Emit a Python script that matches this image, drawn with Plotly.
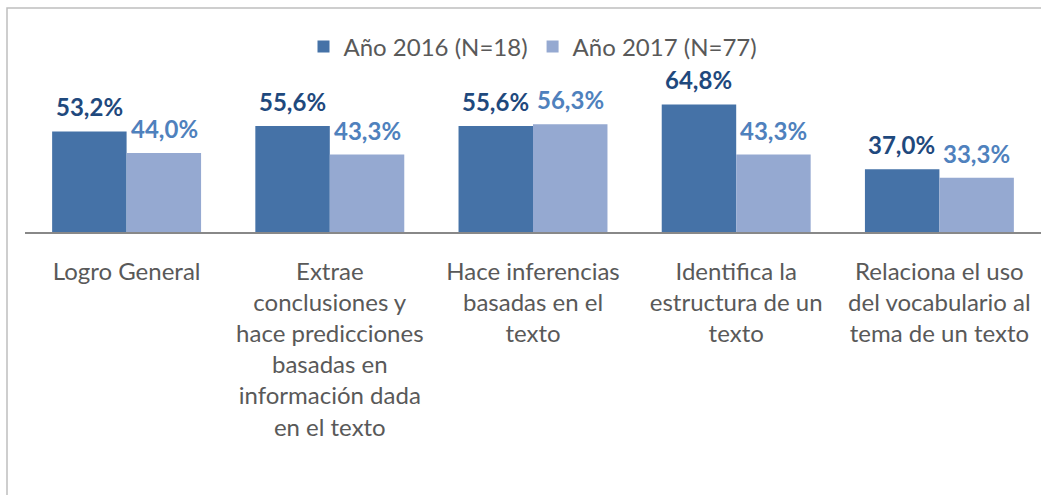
import plotly.graph_objects as go

categories = [
    "Logro General",
    "Extrae<br>conclusiones y<br>hace predicciones<br>basadas en<br>información dada<br>en el texto",
    "Hace inferencias<br>basadas en el<br>texto",
    "Identifica la<br>estructura de un<br>texto",
    "Relaciona el uso<br>del vocabulario al<br>tema de un texto",
]
series_names = ["Año 2016 (N=18)", "Año 2017 (N=77)"]
values_2016 = [53.2, 55.6, 55.6, 64.8, 37.0]
values_2017 = [44.0, 43.3, 56.3, 43.3, 33.3]

bar_colors = ["#4572A7", "#95A9D1"]
label_colors = ["#1F497D", "#4F81BD"]
FONT = "Lato"

fig = go.Figure()
for name, vals, col in zip(series_names, [values_2016, values_2017], bar_colors):
    fig.add_trace(go.Bar(x=categories, y=vals, name=name, marker_color=col,
                         marker_line_width=0))

# data labels as annotations (offset left/right within each group)
for i, (vals, lc) in enumerate(zip([values_2016, values_2017], label_colors)):
    shift = -37.5 if i == 0 else 37.5
    for c, v in zip(categories, vals):
        fig.add_annotation(x=c, y=v, xref="x", yref="y", xshift=shift, yshift=8,
                           yanchor="bottom", showarrow=False,
                           text="<b>" + f"{v:.1f}".replace(".", ",") + "%</b>",
                           font=dict(family=FONT, size=24, color=lc))

# chart frame
fig.add_shape(type="rect", xref="paper", yref="paper",
              x0=(7 - 25) / 1016, x1=1.2, y0=-2.2, y1=(232 - 8) / 140,
              line=dict(color="#BFBFBF", width=1.5), layer="below")

fig.update_layout(
    width=1041, height=495,
    margin=dict(l=25, r=0, t=92, b=263, autoexpand=False),
    paper_bgcolor="white", plot_bgcolor="white",
    barmode="group", bargap=0.267, bargroupgap=0,
    showlegend=True,
    legend=dict(orientation="h", x=0.5, xanchor="center", y=(232 - 47) / 140, yanchor="middle",
                font=dict(family=FONT, size=24, color="#595959"), itemwidth=30,
                traceorder="normal"),
    font=dict(family=FONT, color="#595959"),
)
fig.update_xaxes(showline=True, linecolor="#888888", linewidth=1.5, ticks="",
                 automargin=False, ticklabelstandoff=17,
                 tickfont=dict(family=FONT, size=24, color="#595959"), showgrid=False)
fig.update_yaxes(range=[10, 10 + 140 / 2.327], visible=False, showgrid=False, automargin=False)

fig.write_html("out.html", config={"displayModeBar": False},
               post_script="document.body.style.margin='0';document.body.style.overflow='hidden';")
